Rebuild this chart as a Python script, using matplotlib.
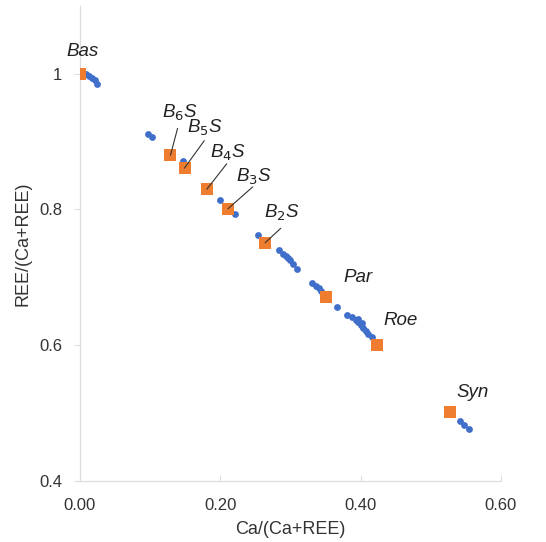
import matplotlib
matplotlib.use("Agg")
import matplotlib.pyplot as plt

plt.rcParams['font.family'] = ['Liberation Sans', 'DejaVu Sans']

# Measured (blue) compositions
meas_x = [0.009, 0.013, 0.017, 0.021, 0.024,
          0.097, 0.103, 0.147, 0.199, 0.221, 0.254,
          0.283, 0.290, 0.296, 0.300, 0.304, 0.310, 0.293,
          0.331, 0.336, 0.340, 0.344, 0.366,
          0.381, 0.387, 0.393, 0.396, 0.400, 0.403, 0.407, 0.411, 0.416, 0.396, 0.402,
          0.541, 0.547, 0.554]
meas_y = [0.999, 0.997, 0.994, 0.991, 0.985,
          0.911, 0.907, 0.872, 0.814, 0.793, 0.762,
          0.740, 0.734, 0.729, 0.725, 0.719, 0.712, 0.731,
          0.691, 0.687, 0.684, 0.680, 0.656,
          0.644, 0.641, 0.637, 0.634, 0.630, 0.625, 0.621, 0.616, 0.612, 0.638, 0.632,
          0.489, 0.483, 0.477]

# Ideal (orange) phases
phase_names = ['Bas', 'B$_6$S', 'B$_5$S', 'B$_4$S', 'B$_3$S', 'B$_2$S', 'Par', 'Roe', 'Syn']
phase_x = [0.0, 0.129, 0.149, 0.181, 0.211, 0.264, 0.350, 0.424, 0.527]
phase_y = [1.0, 0.880, 0.861, 0.830, 0.801, 0.751, 0.671, 0.601, 0.501]
# label positions (data coords)
label_x = [0.003, 0.142, 0.178, 0.211, 0.248, 0.288, 0.396, 0.457, 0.560]
label_y = [1.032, 0.942, 0.920, 0.883, 0.848, 0.795, 0.700, 0.637, 0.531]
# leader line start points (None = no leader)
lead_x = [None, 0.139, 0.177, 0.209, 0.246, 0.286, None, None, None]
lead_y = [None, 0.919, 0.901, 0.867, 0.833, 0.772, None, None, None]

fig = plt.figure(figsize=(5.46, 5.42), dpi=100)
ax = fig.add_axes([0.1465, 0.1125, 0.771, 0.877])

ax.scatter(meas_x, meas_y, s=24, color='#3F6FCB', zorder=3, linewidths=0)
ax.scatter(phase_x, phase_y, s=74, marker='s', color='#EE7D30', zorder=4, linewidths=0)

for name, px, py, lx, ly, sx, sy in zip(phase_names, phase_x, phase_y, label_x, label_y, lead_x, lead_y):
    ax.text(lx, ly, name, fontsize=13.5, style='italic', ha='center', va='center', color='#222222', zorder=5)
    if sx is not None:
        ax.plot([sx, px], [sy, py], color='#333333', lw=0.8, zorder=5)

ax.set_xlim(0, 0.6)
ax.set_ylim(0.4, 1.1)
ax.set_xticks([0, 0.2, 0.4, 0.6])
ax.set_xticklabels(['0.00', '0.20', '0.40', '0.60'])
ax.set_yticks([0.4, 0.6, 0.8, 1.0])
ax.set_yticklabels(['0.4', '0.6', '0.8', '1'])
ax.tick_params(axis='both', labelsize=12, colors='#dddddd', labelcolor='#333333', length=4, width=0.8)
ax.tick_params(axis='x', direction='in', pad=12)
ax.tick_params(axis='y', direction='out', pad=9)
for s in ['top', 'right']:
    ax.spines[s].set_visible(False)
for s in ['left', 'bottom']:
    ax.spines[s].set_color('#dddddd')
    ax.spines[s].set_linewidth(0.9)
ax.set_xlabel('Ca/(Ca+REE)', fontsize=13, color='#333333', labelpad=6)
ax.set_ylabel('REE/(Ca+REE)', fontsize=13, color='#333333', labelpad=5)

fig.savefig('out.png', dpi=100)
